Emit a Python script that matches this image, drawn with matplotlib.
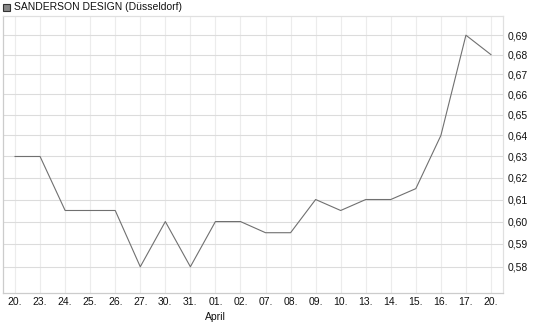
import numpy as np
import matplotlib
matplotlib.use("Agg")
import matplotlib.pyplot as plt
from matplotlib.patches import Rectangle
from matplotlib.ticker import FixedLocator, FixedFormatter, NullLocator

# ==========================
# Data
# ==========================

day_labels = ["20.", "23.", "24.", "25.", "26.", "27.", "30.", "31.", "01.", "02.",
              "07.", "08.", "09.", "10.", "13.", "14.", "15.", "16.", "17.", "20."]

prices = [0.63, 0.63, 0.605, 0.605, 0.605, 0.58, 0.60, 0.58, 0.60, 0.60,
          0.595, 0.595, 0.61, 0.605, 0.61, 0.61, 0.615, 0.64, 0.69, 0.68]

y_ticks = [0.58, 0.59, 0.60, 0.61, 0.62, 0.63, 0.64, 0.65, 0.66, 0.67, 0.68, 0.69]

title = "SANDERSON DESIGN (Düsseldorf)"
month_label = "April"
month_index = 8

# ==========================
# Figure
# ==========================

plt.rcParams["font.family"] = ["Liberation Sans", "DejaVu Sans"]

W, H = 545, 327
fig = plt.figure(figsize=(W / 100, H / 100), dpi=100)

ax = fig.add_axes([3 / W, (H - 293) / H, 500 / W, 277 / H])

x = np.arange(len(prices))
ax.plot(x, prices, color="#707070", linewidth=0.8)

ax.set_yscale("log")
ax.set_ylim(0.5687, 0.7)
ax.set_xlim(-0.48, len(prices) - 0.52)

ax.yaxis.set_major_locator(FixedLocator(y_ticks))
ax.yaxis.set_major_formatter(FixedFormatter([f"{v:.2f}".replace(".", ",") for v in y_ticks]))
ax.yaxis.set_minor_locator(NullLocator())
ax.yaxis.tick_right()

ax.set_xticks(x)
ax.set_xticklabels(day_labels)

ax.tick_params(axis="both", length=0, labelsize=7.5, colors="#111111")
ax.tick_params(axis="y", pad=3)
ax.tick_params(axis="x", pad=3)

# grid
for xi in x:
    ax.axvline(xi, color="#ececec", linewidth=0.8, zorder=0)
for yv in y_ticks:
    ax.axhline(yv, color="#dcdcdc", linewidth=0.8, zorder=0)

for side in ["top", "right"]:
    ax.spines[side].set_color("#e0e0e0")
for side in ["left", "bottom"]:
    ax.spines[side].set_color("#cccccc")
for s in ax.spines.values():
    s.set_linewidth(0.9)

# month label under the ticks
ax.text(month_index, -0.07, month_label, transform=ax.get_xaxis_transform(),
        ha="center", va="top", fontsize=7.5, color="#111111")

# title with small square marker
fig.patches.append(Rectangle((3 / W, (H - 11) / H), 7 / W, 7 / H,
                             transform=fig.transFigure, facecolor="#888888",
                             edgecolor="#333333", linewidth=0.8))
fig.text(14 / W, (H - 7.5) / H, title, ha="left", va="center",
         fontsize=7.5, color="#111111")

fig.savefig("out.png", dpi=100)
